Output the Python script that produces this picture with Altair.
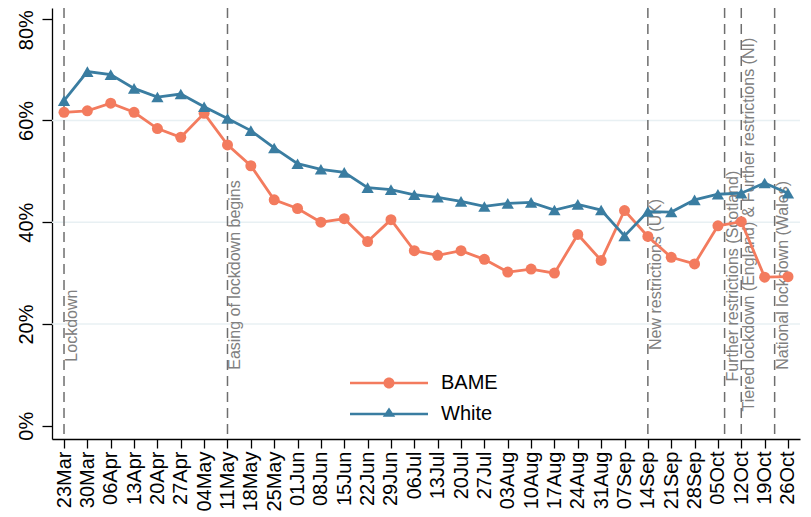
import altair as alt
import pandas as pd

weeks = ["23Mar", "30Mar", "06Apr", "13Apr", "20Apr", "27Apr", "04May", "11May",
         "18May", "25May", "01Jun", "08Jun", "15Jun", "22Jun", "29Jun", "06Jul",
         "13Jul", "20Jul", "27Jul", "03Aug", "10Aug", "17Aug", "24Aug", "31Aug",
         "07Sep", "14Sep", "21Sep", "28Sep", "05Oct", "12Oct", "19Oct", "26Oct"]
bame = [61.6, 61.9, 63.4, 61.6, 58.4, 56.7, 61.4, 55.2, 51.1, 44.4, 42.7, 40.0,
        40.7, 36.2, 40.5, 34.4, 33.5, 34.4, 32.7, 30.2, 30.8, 30.0, 37.6, 32.5,
        42.3, 37.2, 33.1, 31.8, 39.3, 40.1, 29.2, 29.3]
white = [63.9, 69.6, 69.0, 66.3, 64.6, 65.2, 62.7, 60.4, 58.0, 54.6, 51.5, 50.4,
         49.8, 46.8, 46.4, 45.4, 44.9, 44.1, 43.1, 43.7, 43.9, 42.4, 43.5, 42.4,
         37.3, 42.1, 42.0, 44.4, 45.5, 45.7, 47.7, 45.7]
groups = ["BAME", "White"]
event_dates = ["2020-03-23", "2020-05-11", "2020-09-14", "2020-10-07", "2020-10-12", "2020-10-22"]
event_labels = ["Lockdown", "Easing of lockdown begins", "New restrictions (UK)",
                "Further restrictions (Scotland)",
                "Tiered lockdown (England) & Further restrictions (NI)",
                "National lockdown (Wales)"]
event_label_start = [12.6, 11.0, 14.9, 8.7, 2.8, 11.0]
grid_values = [20, 40, 60]
y_ticks = [0, 20, 40, 60, 80]

COL = {"BAME": "#F37B5E", "White": "#3A7DA1"}
FONT = "Liberation Sans"

start = pd.Timestamp(event_dates[0])
days = [7 * i for i in range(len(weeks))]
df = pd.DataFrame({"day": days * 2, "value": bame + white,
                   "group": ["BAME"] * len(bame) + ["White"] * len(white)})
ev = pd.DataFrame({"day": [(pd.Timestamp(d) - start).days for d in event_dates],
                   "label": event_labels, "ystart": event_label_start})
gr = pd.DataFrame({"v": grid_values})

label_arr = "[" + ",".join("'" + w + "'" for w in weeks) + "]"

xscale = alt.Scale(domain=[-3.6, 220.6], nice=False, zero=False)
yscale = alt.Scale(domain=[-2.6, 82.1], nice=False, zero=False)
xaxis = alt.Axis(values=days, labelExpr=label_arr + "[round(datum.value/7)]",
                 labelAngle=270, labelAlign="right", labelBaseline="middle",
                 labelFontSize=20, labelFont=FONT, labelColor="#000", labelPadding=3,
                 tickSize=9, tickColor="#000", tickWidth=1.3, domainColor="#000",
                 domainWidth=1.3, grid=False, labelFlush=False, labelOverlap=False, title=None)
yaxis = alt.Axis(values=y_ticks, labelExpr="datum.value + '%'", labelAngle=270,
                 labelAlign="center", labelBaseline="bottom", labelFontSize=20,
                 labelFont=FONT, labelColor="#000", labelPadding=6, tickSize=10,
                 labelOffset={"condition": {"test": "datum.value == 80", "value": 11}, "value": 0},
                 tickColor="#000", tickWidth=1.3, domainColor="#000", domainWidth=1.3,
                 grid=False, labelFlush=False, labelOverlap=False, title=None)


def X(f):
    return alt.X(f, type="quantitative", scale=xscale, axis=xaxis)


def Y(f):
    return alt.Y(f, type="quantitative", scale=yscale, axis=yaxis)


grid = alt.Chart(gr).mark_rule(color="#E8F0F3", strokeWidth=1.5).encode(y=Y("v"))
rules = alt.Chart(ev).mark_rule(color="#6E6E6E", strokeWidth=1.5, strokeDash=[10, 6]).encode(x=X("day"))
texts = alt.Chart(ev).mark_text(angle=270, align="left", baseline="top", fontSize=16,
                                font=FONT, color="#808080").encode(
    x=X("day"), y=Y("ystart"), text="label")

layers = [grid, rules, texts]
for g, shp, sz in [("BAME", "circle", 121), ("White", "triangle-up", 150)]:
    base = alt.Chart(df).transform_filter(alt.datum.group == g)
    layers.append(base.mark_line(color=COL[g], strokeWidth=2.8).encode(x=X("day"), y=Y("value")))
    layers.append(base.mark_point(filled=True, opacity=1, color=COL[g], shape=shp, size=sz)
                  .encode(x=X("day"), y=Y("value")))

# legend symbols: line segment with marker (units of 12 px, symbolSize 24^2)
bame_sym = ("M-3.25,-0.11H3.25V0.11H-3.25Z M0.46,0A0.46,0.46 0 1,1 -0.46,0"
            "A0.46,0.46 0 1,1 0.46,0Z")
white_sym = "M-3.25,-0.11H3.25V0.11H-3.25Z M0,-0.55L0.52,0.22L-0.52,0.22Z"
leg = alt.Legend(orient="none", legendX=298, legendY=363, title=None)
legend_layer = alt.Chart(df).transform_filter("datum.value < -1000").mark_point(
    filled=True, opacity=0).encode(
    x=X("day"), y=Y("value"),
    color=alt.Color("group:N", scale=alt.Scale(domain=groups, range=[COL[g] for g in groups]), legend=leg),
    shape=alt.Shape("group:N", scale=alt.Scale(domain=groups, range=[bame_sym, white_sym]), legend=leg),
)
layers.append(legend_layer)

chart = alt.layer(*layers).properties(
    width=748, height=431,
    autosize=alt.AutoSizeParams(type="none"),
    padding={"left": 44, "top": 0, "right": 3, "bottom": 75},
    background="white",
).configure_view(stroke=None).configure_legend(
    labelFontSize=20, labelFont=FONT, labelColor="#000", symbolSize=576,
    symbolStrokeWidth=0, symbolOpacity=1, symbolOffset=27, labelOffset=40,
    rowPadding=9, padding=0,
)

chart.save("out.html", embed_options={"renderer": "svg", "actions": False})
